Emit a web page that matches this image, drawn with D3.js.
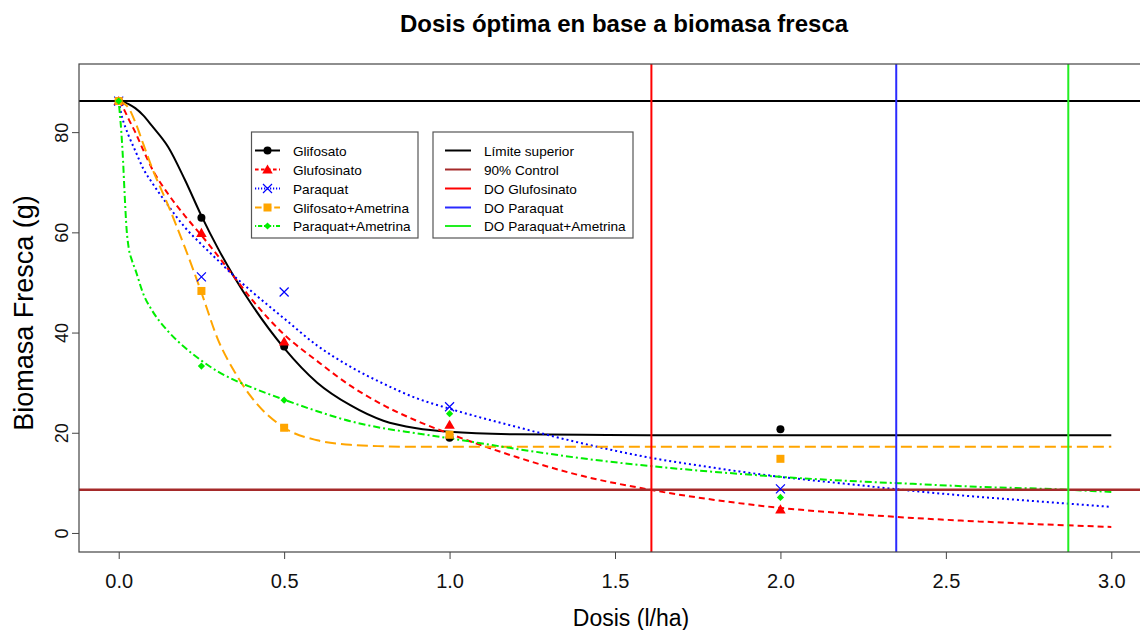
<!DOCTYPE html>
<html>
<head>
<meta charset="utf-8">
<script src="https://cdn.jsdelivr.net/npm/d3@7"></script>
<style>
    body { margin: 0; background: #fff; }
    svg { display: block; font-family: "Liberation Sans", Arial, sans-serif; }
</style>
</head>
<body>
<svg id="chart" width="1140" height="630"></svg>
<script>
// observed means
const obsDose = [0, 0.25, 0.5, 1, 2];
const glifosatoObs = [86.2, 62.9, 37.2, 19.0, 20.7];
const glufosinatoObs = [86.2, 59.9, 38.2, 21.6, 4.7];
const paraquatObs = [86.2, 51.1, 48.1, 25.2, 8.8];
const glifAmetObs = [86.2, 48.3, 21.0, 19.6, 14.8];
const paraAmetObs = [86.2, 33.3, 26.5, 23.8, 7.1];

// fitted curves
const curveDose = [0, 0.01, 0.02, 0.03, 0.05, 0.075, 0.1, 0.15, 0.2, 0.25, 0.3, 0.35, 0.4, 0.5, 0.6, 0.7, 0.8, 0.9, 1.0, 1.2, 1.4, 1.6, 1.8, 2.0, 2.2, 2.4, 2.6, 2.8, 3.0];
const glifosatoFit = [86.2, 86.1, 85.9, 85.6, 84.8, 83.3, 81.3, 77.0, 70.5, 63.3, 56.8, 51.0, 45.8, 36.9, 30.0, 25.5, 22.4, 20.9, 20.2, 19.7, 19.6, 19.5, 19.5, 19.5, 19.5, 19.5, 19.5, 19.5, 19.5];
const glufosinatoFit = [86.2, 85.3, 84.0, 82.6, 80.0, 76.3, 72.8, 67.6, 63.3, 59.4, 55.3, 51.0, 46.8, 39.6, 34.3, 29.4, 25.5, 22.4, 19.8, 15.2, 11.4, 8.7, 6.6, 5.0, 3.9, 3.0, 2.3, 1.7, 1.2];
const paraquatFit = [86.2, 83.0, 81.0, 79.3, 76.3, 72.6, 70.0, 65.3, 61.0, 57.6, 54.4, 51.2, 48.3, 42.8, 37.4, 33.2, 29.8, 26.9, 24.8, 21.2, 17.9, 15.1, 13.0, 11.2, 9.8, 8.4, 7.2, 6.2, 5.2];
const glifAmetFit = [86.2, 86.0, 85.5, 84.8, 82.0, 77.5, 73.0, 65.3, 57.0, 48.0, 38.6, 32.2, 27.2, 21.0, 18.5, 17.6, 17.3, 17.2, 17.2, 17.2, 17.2, 17.2, 17.2, 17.2, 17.2, 17.2, 17.2, 17.2, 17.2];
const paraAmetDose = [0, 0.003, 0.008, 0.013, 0.018, 0.024, 0.03, 0.04, 0.05, 0.075, 0.1, 0.15, 0.2, 0.25, 0.3, 0.35, 0.4, 0.5, 0.6, 0.7, 0.8, 0.9, 1.0, 1.2, 1.4, 1.6, 1.8, 2.0, 2.2, 2.4, 2.6, 2.8, 3.0];
const paraAmetFit = [86.2, 84.0, 80.0, 74.5, 67.5, 60.5, 57.0, 54.4, 52.6, 47.6, 44.5, 40.2, 37.0, 34.4, 32.2, 30.5, 29.1, 26.6, 24.3, 22.3, 20.9, 19.9, 18.9, 16.8, 14.9, 13.4, 12.2, 11.2, 10.4, 9.8, 9.2, 8.8, 8.2];

// reference lines
const upperLimit = 86.2;
const control90 = 8.62;
const optimalDoses = [1.61, 2.35, 2.87];

const xTicks = [0, 0.5, 1, 1.5, 2, 2.5, 3];
const yTicks = [0, 20, 40, 60, 80];

const seriesNames = ["Glifosato", "Glufosinato", "Paraquat", "Glifosato+Ametrina", "Paraquat+Ametrina"];
const refNames = ["Límite superior", "90% Control", "DO Glufosinato", "DO Paraquat", "DO Paraquat+Ametrina"];

const svg = d3.select("#chart");

const plotLeft = 79, plotTop = 64, plotBottom = 552, plotRight = 1151;

const x = d3.scaleLinear().domain([-0.12, 3.12]).range([plotLeft, plotRight]);
const y = d3.scaleLinear().domain([-3.8, 93.6]).range([plotBottom, plotTop]);

const styles = [
    { color: "#000000", dash: null, shape: "circle" },
    { color: "#ff0000", dash: "6,4", shape: "triangle" },
    { color: "#0000ff", dash: "2,3", shape: "cross" },
    { color: "#ffa500", dash: "11,5", shape: "square" },
    { color: "#00ee00", dash: "2,3,7,3", shape: "diamond" }
];
const refColors = ["#000000", "#a52a2a", "#ff0000", "#2a2aff", "#22ee22"];

const series = [
    { dose: curveDose, fit: glifosatoFit, obs: glifosatoObs },
    { dose: curveDose, fit: glufosinatoFit, obs: glufosinatoObs },
    { dose: curveDose, fit: paraquatFit, obs: paraquatObs },
    { dose: curveDose, fit: glifAmetFit, obs: glifAmetObs },
    { dose: paraAmetDose, fit: paraAmetFit, obs: paraAmetObs }
];

svg.append("defs").append("clipPath").attr("id", "plotClip")
    .append("rect")
    .attr("x", plotLeft).attr("y", plotTop)
    .attr("width", plotRight - plotLeft).attr("height", plotBottom - plotTop);

const plot = svg.append("g").attr("clip-path", "url(#plotClip)");

// symbols
const drawSymbol = function (g, shape, color, cx, cy) {
    if (shape === "circle") {
        g.append("circle").attr("cx", cx).attr("cy", cy).attr("r", 4).attr("fill", color);
    } else if (shape === "triangle") {
        g.append("path").attr("d", d3.symbol(d3.symbolTriangle, 48)()).attr("transform", "translate(" + cx + "," + (cy + 1) + ")").attr("fill", color);
    } else if (shape === "cross") {
        g.append("path").attr("d", "M-4.5,-4.5L4.5,4.5M-4.5,4.5L4.5,-4.5").attr("transform", "translate(" + cx + "," + cy + ")")
            .attr("stroke", color).attr("stroke-width", 1.2).attr("fill", "none");
    } else if (shape === "square") {
        g.append("rect").attr("x", cx - 4).attr("y", cy - 4).attr("width", 8).attr("height", 8).attr("fill", color);
    } else if (shape === "diamond") {
        g.append("path").attr("d", "M0,-3.6L3.6,0L0,3.6L-3.6,0Z").attr("transform", "translate(" + cx + "," + cy + ")").attr("fill", color);
    }
};

const line = d3.line()
    .x(function (d) { return x(d[0]); })
    .y(function (d) { return y(d[1]); })
    .curve(d3.curveMonotoneX);

// horizontal reference lines
plot.append("line")
    .attr("x1", plotLeft).attr("x2", plotRight)
    .attr("y1", y(upperLimit)).attr("y2", y(upperLimit))
    .attr("stroke", refColors[0]).attr("stroke-width", 2);

// fitted curves
series.forEach(function (s, i) {
    plot.append("path")
        .attr("d", line(d3.zip(s.dose, s.fit)))
        .attr("fill", "none")
        .attr("stroke", styles[i].color)
        .attr("stroke-width", 2)
        .attr("stroke-dasharray", styles[i].dash);
});

plot.append("line")
    .attr("x1", plotLeft).attr("x2", plotRight)
    .attr("y1", y(control90)).attr("y2", y(control90))
    .attr("stroke", refColors[1]).attr("stroke-width", 2.5);

optimalDoses.forEach(function (d, i) {
    plot.append("line")
        .attr("x1", x(d)).attr("x2", x(d))
        .attr("y1", plotTop).attr("y2", plotBottom)
        .attr("stroke", refColors[i + 2]).attr("stroke-width", 2);
});

// observed points
series.forEach(function (s, i) {
    const g = plot.append("g");
    s.obs.forEach(function (v, j) {
        drawSymbol(g, styles[i].shape, styles[i].color, x(obsDose[j]), y(v));
    });
});

// box
svg.append("rect")
    .attr("x", plotLeft).attr("y", plotTop)
    .attr("width", plotRight - plotLeft).attr("height", plotBottom - plotTop)
    .attr("fill", "none").attr("stroke", "#444").attr("stroke-width", 1.2);

// axes
const xAxis = svg.append("g")
    .attr("transform", "translate(0," + plotBottom + ")")
    .call(d3.axisBottom(x).tickValues(xTicks).tickFormat(d3.format(".1f")).tickSize(7).tickPadding(15));
xAxis.select(".domain").remove();
xAxis.selectAll("line").attr("stroke", "#444");
xAxis.selectAll("text").attr("font-size", 20).attr("fill", "#111")
    .attr("font-family", "Liberation Sans, Arial, sans-serif");

const yAxis = svg.append("g")
    .attr("transform", "translate(" + plotLeft + ",0)")
    .call(d3.axisLeft(y).tickValues(yTicks).tickSize(7));
yAxis.select(".domain").remove();
yAxis.selectAll("line").attr("stroke", "#444");
yAxis.selectAll("text")
    .attr("x", null).attr("dy", null)
    .attr("text-anchor", "middle")
    .attr("transform", "translate(-11,0) rotate(-90)")
    .attr("font-size", 18).attr("fill", "#111")
    .attr("font-family", "Liberation Sans, Arial, sans-serif");

// titles
svg.append("text")
    .attr("x", 624).attr("y", 32)
    .attr("text-anchor", "middle")
    .attr("font-size", 24).attr("font-weight", "bold")
    .text("Dosis óptima en base a biomasa fresca");

svg.append("text")
    .attr("x", 631).attr("y", 626)
    .attr("text-anchor", "middle")
    .attr("font-size", 23)
    .text("Dosis (l/ha)");

svg.append("text")
    .attr("transform", "translate(33," + ((plotTop + plotBottom) / 2 + 5) + ") rotate(-90)")
    .attr("text-anchor", "middle")
    .attr("font-size", 27)
    .text("Biomasa Fresca (g)");

// legends
const legendRowY = [150.5, 169.5, 188.5, 207.5, 226];

const legend1 = svg.append("g");
legend1.append("rect")
    .attr("x", 251.5).attr("y", 132).attr("width", 166.5).attr("height", 106)
    .attr("fill", "#fff").attr("stroke", "#555").attr("stroke-width", 1.2);
seriesNames.forEach(function (name, i) {
    const ly = legendRowY[i];
    legend1.append("line")
        .attr("x1", 255).attr("x2", 280).attr("y1", ly).attr("y2", ly)
        .attr("stroke", styles[i].color).attr("stroke-width", 2)
        .attr("stroke-dasharray", styles[i].dash ? styles[i].dash.split(",").map(function (v) { return v * 0.6; }).join(",") : null);
    drawSymbol(legend1, styles[i].shape, styles[i].color, 267.5, ly);
    legend1.append("text")
        .attr("x", 293).attr("y", ly + 5)
        .attr("font-size", 13.6)
        .text(name);
});

const legend2 = svg.append("g");
legend2.append("rect")
    .attr("x", 433).attr("y", 132).attr("width", 200).attr("height", 106)
    .attr("fill", "#fff").attr("stroke", "#555").attr("stroke-width", 1.2);
refNames.forEach(function (name, i) {
    const ly = legendRowY[i];
    legend2.append("line")
        .attr("x1", 445).attr("x2", 471).attr("y1", ly).attr("y2", ly)
        .attr("stroke", refColors[i]).attr("stroke-width", 2);
    legend2.append("text")
        .attr("x", 484).attr("y", ly + 5)
        .attr("font-size", 13.6)
        .text(name);
});
</script>
</body>
</html>
